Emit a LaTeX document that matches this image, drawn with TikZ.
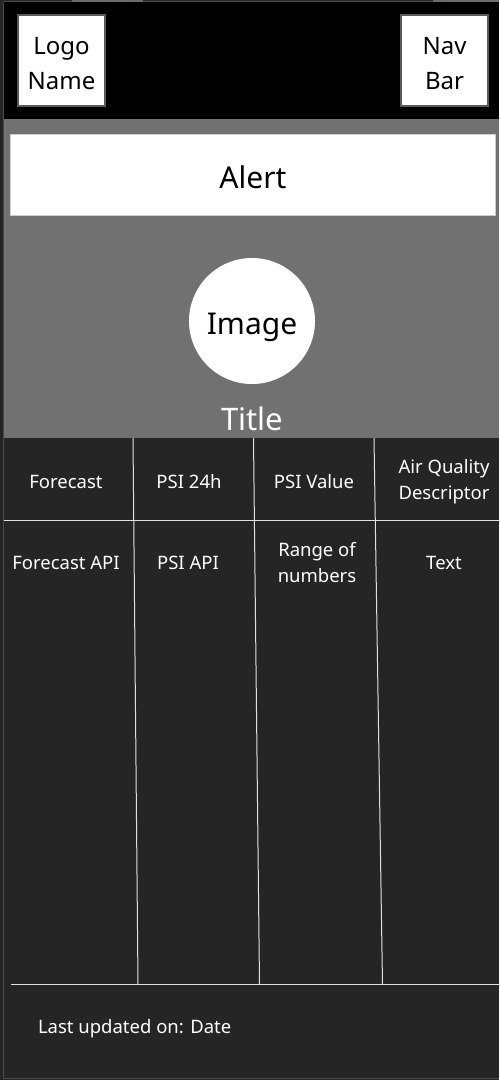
\documentclass[tikz,border=0pt]{standalone}
\usepackage{fontspec}
\setmainfont{Noto Sans}
\begin{document}
\begin{tikzpicture}[x=1pt,y=-1pt,
  every node/.style={inner sep=0pt, outer sep=0pt},
  whitebox/.style={draw=boxedge, line width=1.2pt, fill=white},
  cellline/.style={draw=gridline, line width=1pt},
  celltext/.style={text=white, align=center, font=\fontsize{18.5}{26}\selectfont},
]
\definecolor{page}{HTML}{252525}
\definecolor{header}{HTML}{000000}
\definecolor{hero}{HTML}{717171}
\definecolor{boxedge}{HTML}{5A5A5A}
\definecolor{gridline}{HTML}{E0E0E0}
\definecolor{frame}{HTML}{4A4A4A}
\definecolor{framelight}{HTML}{6E6A66}

% page background and outer frame
\fill[page] (0,0) rectangle (499,1080);
\useasboundingbox (0,0) rectangle (499,1080);
\draw[frame, line width=1.5pt] (3.5,1.5) -- (499,1.5);
\draw[frame, line width=1.5pt] (3.5,1.5) -- (3.5,1078.5) -- (499,1078.5);
\draw[framelight, line width=1.5pt] (72,1.2) -- (143,1.2);
\draw[framelight, line width=1.5pt] (433,1.2) -- (499,1.2);

% header bar
\fill[header] (4.3,2.3) rectangle (499,119);
\node[whitebox, minimum width=87pt, minimum height=91pt] (logo) at (61.5,60.5) {};
\node[align=center, font=\fontsize{24}{35}\selectfont] (logotext) at (61.5,64) {Logo\\Name};
\node[whitebox, minimum width=87pt, minimum height=91pt] (nav) at (444.5,60.5) {};
\node[align=center, font=\fontsize{24}{35}\selectfont] (navtext) at (444.5,64) {Nav\\Bar};

% hero area
\fill[hero] (4.3,119) rectangle (499,438);
\node[draw=gridline!80!gray, line width=1pt, fill=white, minimum width=485pt, minimum height=81pt] (alert) at (252.5,174.5) {};
\node[font=\fontsize{30}{36}\selectfont] (alerttext) at (253,177.5) {Alert};
\node[circle, fill=white, minimum size=126pt] (image) at (252,321) {};
\node[font=\fontsize{30}{36}\selectfont] (imagetext) at (252,327) {Image};
\node[text=white, font=\fontsize{31}{36}\selectfont] (title) at (252,419) {Title};

% table grid
\coordinate (h0) at (4.3,520);
\coordinate (h1) at (499,520);
\coordinate (b0) at (11,984);
\coordinate (b1) at (499,984);
\coordinate (c1t) at (133,438);
\coordinate (c1b) at (138,984);
\coordinate (c2t) at (253.5,438);
\coordinate (c2b) at (259.5,984);
\coordinate (c3t) at (374,438);
\coordinate (c3b) at (382.5,984);
\draw[cellline] (h0) -- (h1);
\draw[cellline] (b0) -- (b1);
\draw[cellline] (c1t) -- (c1b);
\draw[cellline] (c2t) -- (c2b);
\draw[cellline] (c3t) -- (c3b);

% header row
\node[celltext] (hforecast) at (66,482) {Forecast};
\node[celltext] (hpsi24) at (189,482) {PSI 24h};
\node[celltext] (hpsival) at (314,482) {PSI Value};
\node[celltext] (hdesc) at (444,482) {Air Quality\\Descriptor};

% data row
\node[celltext] (dforecast) at (66,563) {Forecast API};
\node[celltext] (dpsi) at (188,563) {PSI API};
\node[celltext] (drange) at (317,563) {Range of\\numbers};
\node[celltext] (dtext) at (444,563) {Text};

% footer
\node[celltext, anchor=west] (updated) at (38,1029) {Last updated on: Date};
\end{tikzpicture}
\end{document}
